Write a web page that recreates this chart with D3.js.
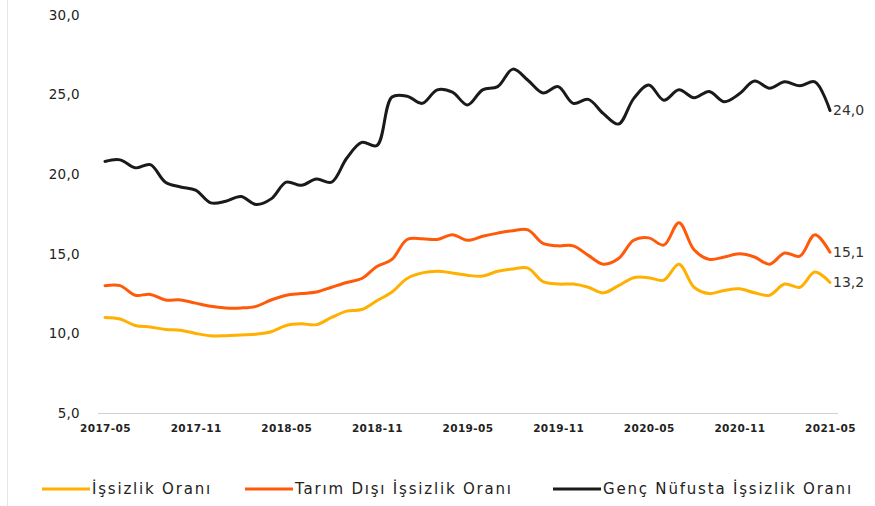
<!DOCTYPE html>
<html>
<head>
<meta charset="utf-8">
<script src="https://cdn.jsdelivr.net/npm/d3@7"></script>
<style>
  html, body { margin: 0; padding: 0; background: #fff; }
  svg { display: block; }
  text { font-family: "DejaVu Sans", sans-serif; }
</style>
</head>
<body>
<svg id="chart" width="875" height="506"></svg>
<script>
// ---- Data (monthly, 2017-05 .. 2021-05) ----
const months = [
  "2017-05","2017-06","2017-07","2017-08","2017-09","2017-10","2017-11","2017-12",
  "2018-01","2018-02","2018-03","2018-04","2018-05","2018-06","2018-07","2018-08",
  "2018-09","2018-10","2018-11","2018-12","2019-01","2019-02","2019-03","2019-04",
  "2019-05","2019-06","2019-07","2019-08","2019-09","2019-10","2019-11","2019-12",
  "2020-01","2020-02","2020-03","2020-04","2020-05","2020-06","2020-07","2020-08",
  "2020-09","2020-10","2020-11","2020-12","2021-01","2021-02","2021-03","2021-04",
  "2021-05"
];
const issizlik = [
  11.0,10.9,10.5,10.4,10.25,10.2,10.0,9.85,9.85,9.9,9.95,10.1,
  10.5,10.6,10.55,11.0,11.4,11.5,12.05,12.6,13.45,13.8,13.9,13.8,
  13.65,13.6,13.9,14.05,14.1,13.25,13.1,13.1,12.9,12.55,13.0,13.5,
  13.5,13.35,14.35,12.9,12.5,12.7,12.8,12.55,12.4,13.1,12.9,13.85,
  13.2
];
const tarimDisi = [
  13.0,13.0,12.4,12.45,12.1,12.1,11.9,11.7,11.6,11.6,11.7,12.1,
  12.4,12.5,12.6,12.9,13.2,13.45,14.2,14.65,15.9,15.95,15.9,16.2,
  15.85,16.1,16.3,16.45,16.5,15.65,15.5,15.5,14.9,14.35,14.7,15.85,
  16.0,15.55,16.95,15.25,14.65,14.8,15.0,14.8,14.35,15.05,14.85,16.2,
  15.1
];
const gencNufus = [
  20.8,20.9,20.4,20.6,19.5,19.2,19.0,18.2,18.3,18.6,18.1,18.45,
  19.5,19.3,19.7,19.5,21.0,22.0,21.8,24.85,24.9,24.45,25.3,25.15,
  24.35,25.3,25.5,26.6,25.9,25.1,25.5,24.45,24.7,23.8,23.15,24.75,
  25.6,24.65,25.3,24.8,25.2,24.55,25.05,25.85,25.4,25.8,25.55,25.8,
  24.0
];
const yTicks = [5, 10, 15, 20, 25, 30];
const xTickLabels = ["2017-05","2017-11","2018-05","2018-11","2019-05","2019-11","2020-05","2020-11","2021-05"];
const seriesNames = ["İşsizlik Oranı", "Tarım Dışı İşsizlik Oranı", "Genç Nüfusta İşsizlik Oranı"];
const seriesColors = ["#FFB000", "#FF5A0A", "#1a1a1a"];

// ---- Build ----
const svg = d3.select("#chart");
const W = 875, H = 506;

svg.append("rect").attr("width", W).attr("height", H).attr("fill", "#fff");
// faint left border
svg.append("line").attr("x1", 7.5).attr("x2", 7.5).attr("y1", 0).attr("y2", H)
  .attr("stroke", "#e6e6e6").attr("stroke-width", 1);

const x = d3.scalePoint().domain(months).range([105, 830]);
const y = d3.scaleLinear().domain([5, 30]).range([413, 15]);

// baseline
svg.append("line")
  .attr("x1", 98).attr("x2", 838)
  .attr("y1", y(5) + 0.5).attr("y2", y(5) + 0.5)
  .attr("stroke", "#d0d0d0").attr("stroke-width", 1);

// y-axis
const fmt = v => d3.format(".1f")(v).replace(".", ",");
const yAxis = d3.axisLeft(y).tickValues(yTicks).tickFormat(fmt).tickSize(0).tickPadding(0);
const gy = svg.append("g").attr("transform", "translate(80,0)").call(yAxis);
gy.select(".domain").remove();
gy.selectAll("text").attr("font-size", 13.5).attr("fill", "#222")
  .attr("letter-spacing", "0.3px")
  .attr("font-family", '"DejaVu Sans", sans-serif');

// x-axis
const xAxis = d3.axisBottom(x).tickValues(xTickLabels).tickSize(0).tickPadding(0);
const gx = svg.append("g").attr("transform", `translate(0,${y(5) + 19})`).call(xAxis);
gx.select(".domain").remove();
gx.selectAll("text").attr("font-size", 10.5).attr("font-weight", "bold").attr("fill", "#222")
  .attr("dy", "0").attr("letter-spacing", "0.4px")
  .attr("font-family", '"DejaVu Sans", sans-serif');

// lines
const allSeries = [issizlik, tarimDisi, gencNufus];
const line = d3.line()
  .x((d, i) => x(months[i]))
  .y(d => y(d))
  .curve(d3.curveCatmullRom.alpha(0.5));

allSeries.forEach((s, k) => {
  svg.append("path")
    .datum(s)
    .attr("fill", "none")
    .attr("stroke", seriesColors[k])
    .attr("stroke-width", 3)
    .attr("stroke-linejoin", "round")
    .attr("stroke-linecap", "round")
    .attr("d", line);
});

// end labels
allSeries.forEach((s, k) => {
  const last = s[s.length - 1];
  svg.append("text")
    .attr("x", x(months[months.length - 1]) + 3)
    .attr("y", y(last))
    .attr("dy", "0.35em")
    .attr("font-size", 14)
    .attr("fill", "#333")
    .text(fmt(last));
});

// legend
const legendX = [42, 245, 553];
const legendY = 489;
seriesNames.forEach((name, k) => {
  const g = svg.append("g").attr("transform", `translate(${legendX[k]},${legendY})`);
  g.append("line").attr("x1", 0).attr("x2", 48).attr("y1", 0).attr("y2", 0)
    .attr("stroke", seriesColors[k]).attr("stroke-width", 3);
  g.append("text").attr("x", 50).attr("y", 0).attr("dy", "0.35em")
    .attr("font-size", 15).attr("letter-spacing", "1.8px").attr("fill", "#222").text(name);
});
</script>
</body>
</html>
